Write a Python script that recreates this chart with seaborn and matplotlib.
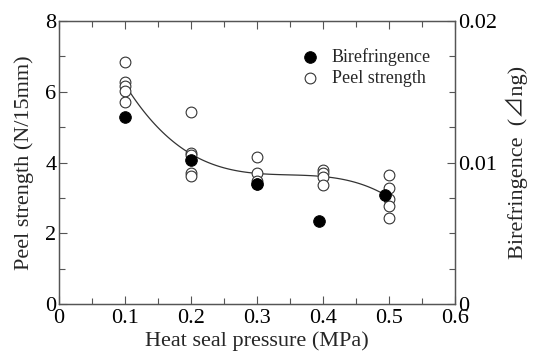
import numpy as np
import pandas as pd
import matplotlib
matplotlib.use("Agg")
import matplotlib.pyplot as plt
import seaborn as sns
from matplotlib.ticker import MultipleLocator, FormatStrFormatter

# --- data ---
peel_x = [0.1] * 5 + [0.2] * 5 + [0.3] * 4 + [0.4] * 4 + [0.5] * 5
peel_y = [6.84, 6.27, 6.16, 6.02, 5.70,
          5.42, 4.27, 4.20, 3.70, 3.62,
          4.15, 3.71, 3.48, 3.40,
          3.80, 3.69, 3.58, 3.36,
          3.64, 3.27, 2.98, 2.77, 2.42]
biref_x = [0.1, 0.2, 0.3, 0.393, 0.494]
biref_y = [0.0132, 0.0102, 0.0085, 0.0059, 0.0077]

peel = pd.DataFrame({"pressure": peel_x, "peel": peel_y})
biref = pd.DataFrame({"pressure": biref_x, "biref": biref_y})

sns.set_style("ticks")
plt.rcParams["font.family"] = ["Liberation Serif", "Noto Sans CJK JP", "DejaVu Sans"]
plt.rcParams["axes.edgecolor"] = "#555555"
plt.rcParams["xtick.color"] = "#555555"
plt.rcParams["ytick.color"] = "#555555"
plt.rcParams["xtick.labelcolor"] = "black"
plt.rcParams["ytick.labelcolor"] = "black"

fig = plt.figure(figsize=(5.33, 3.58), dpi=100)
ax = fig.add_axes([0.111, 0.151, 0.743, 0.790])

sns.regplot(data=peel, x="pressure", y="peel", order=3, ci=None, scatter=False,
            color="#333333", line_kws={"lw": 0.9}, ax=ax)
sns.scatterplot(data=peel, x="pressure", y="peel", marker="o", s=60,
                facecolor="white", edgecolor="#333333", linewidth=0.8,
                ax=ax, label="Peel strength", legend=False, zorder=3)

ax2 = ax.twinx()
sns.scatterplot(data=biref, x="pressure", y="biref", marker="o", s=70,
                color="black", edgecolor="black", ax=ax2,
                label="Birefringence", legend=False, zorder=4)

ax.set_xlim(0, 0.6)
ax.set_ylim(0, 8)
ax2.set_ylim(0, 0.02)

ax.xaxis.set_major_locator(MultipleLocator(0.1))
ax.xaxis.set_minor_locator(MultipleLocator(0.05))
ax.xaxis.set_major_formatter(FormatStrFormatter("%g"))
ax.yaxis.set_major_locator(MultipleLocator(2))
ax.yaxis.set_minor_locator(MultipleLocator(1))
ax2.yaxis.set_major_locator(MultipleLocator(0.01))
ax2.yaxis.set_minor_locator(MultipleLocator(0.0025))
ax2.yaxis.set_major_formatter(FormatStrFormatter("%g"))

for a in (ax, ax2):
    a.tick_params(which="both", direction="in", labelsize=16, width=0.8)
    a.tick_params(which="major", length=6)
    a.tick_params(which="minor", length=4)
    for s in a.spines.values():
        s.set_linewidth(0.9)
ax.tick_params(which="both", top=True, right=False)
ax.tick_params(axis="x", pad=4)
ax.tick_params(axis="y", pad=2)
ax2.tick_params(axis="y", pad=2)

ax.set_xlabel("Heat seal pressure (MPa)", fontsize=16, labelpad=2)
ax.set_ylabel("Peel strength (N/15mm)", fontsize=16, labelpad=8)
ax2.set_ylabel("Birefringence  (⊿ng)", fontsize=16, labelpad=6)

h1, l1 = ax2.get_legend_handles_labels()
h2, l2 = ax.get_legend_handles_labels()
ax2.legend(h1 + h2, l1 + l2, loc="upper left", bbox_to_anchor=(0.57, 0.93),
           frameon=False, fontsize=13, handletextpad=0.2, labelspacing=0.2,
           borderaxespad=0)

fig.savefig("out.png", dpi=100)
